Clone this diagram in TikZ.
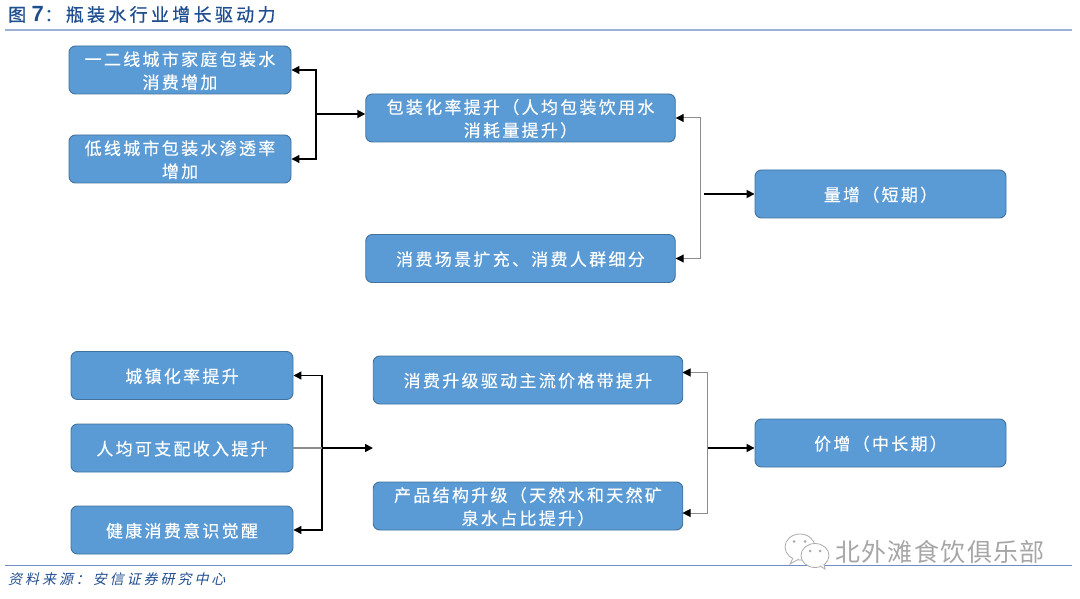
\documentclass[tikz,border=0pt]{standalone}
\usepackage{fontspec}
\usetikzlibrary{arrows.meta,calc}
\setmainfont{Noto Sans CJK SC}
\newfontfamily\boxcjk[LetterSpace=13.5,FakeBold=0.3]{Noto Sans CJK SC}
\newfontfamily\titlecjk[LetterSpace=18.4,FakeBold=0.6]{Noto Sans CJK SC}
\newfontfamily\titlenum{Liberation Sans Bold}
\newfontfamily\footcjk[LetterSpace=21,FakeSlant=0.22]{Noto Sans CJK SC}
\newfontfamily\markcjk[LetterSpace=5.5]{Noto Sans CJK SC}
\newcommand{\tdown}[1]{\raisebox{-0.7pt}[\height][\depth]{#1}}
\definecolor{boxfill}{HTML}{5B9BD5}
\definecolor{boxline}{HTML}{41719C}
\definecolor{headblue}{HTML}{1F4E8F}
\definecolor{rulea}{HTML}{9DB2D8}
\definecolor{ruleb}{HTML}{6F8FC4}
\definecolor{linegrey}{HTML}{8C8C8C}
\tikzset{
  flowbox/.style={draw=boxline,line width=0.9pt,fill=boxfill,rounded corners=6.5pt,inner sep=0pt,
    text=white,align=center,font=\boxcjk\fontsize{17}{23}\selectfont},
  boxa/.style={flowbox,minimum width=222pt,minimum height=48pt},
  boxb/.style={flowbox,minimum width=309.5pt,minimum height=48pt},
  boxc/.style={flowbox,minimum width=251pt,minimum height=48pt},
  blackline/.style={draw=black,line width=1.2pt},
  blacktip/.style={blackline,-{Triangle[length=8pt,width=8pt]}},
  greyline/.style={draw=linegrey,line width=1pt},
  greytip/.style={greyline,-{Triangle[length=8pt,width=8pt,color=black]}},
  strongtip/.style={draw=black,line width=1.7pt,-{Triangle[length=8pt,width=8pt]}},
  wmbubble/.style={draw=gray!65,line width=0.8pt,fill=white},
  wmeye/.style={fill=gray!65,draw=none}
}
\begin{document}
\begin{tikzpicture}[x=1pt,y=-1pt]
\useasboundingbox (0,0) rectangle (1080,599);
% header and footer
\node[anchor=west,inner sep=0pt,text=headblue] (title) at (8,14.5)
  {\titlecjk\fontsize{18}{18}\selectfont 图\hspace{5.5pt}{\titlenum\fontsize{22}{22}\selectfont 7}\hspace{0.5pt}：瓶装水行业增长驱动力};
\coordinate (tl) at (5,30); \coordinate (tr) at (1072,30);
\draw[rulea,line width=1.2pt] (tl) -- (tr);
\coordinate (bl) at (5,565.5); \coordinate (br) at (1072,565.5);
\draw[ruleb,line width=0.9pt] (bl) -- (br);
\node[anchor=west,inner sep=0pt,text=headblue] (source) at (8,579.5)
  {\footcjk\fontsize{14}{14}\selectfont 资料来源：安信证券研究中心};
% watermark
\draw[wmbubble] (800,547) ellipse (15 and 13);
\draw[wmbubble] (793,558) -- (790,564) -- (799,559);
\fill[wmeye] (794,541.5) circle (1.5) (805,541.5) circle (1.5);
\draw[wmbubble] (815,555.5) ellipse (14 and 12);
\draw[wmbubble] (820,566) -- (825,569) -- (824,564);
\fill[wmeye] (810,551) circle (1.5) (820,551) circle (1.5);
\node[anchor=west,inner sep=0pt,text=gray!70] (mark) at (835,552)
  {\markcjk\fontsize{25}{25}\selectfont 北外滩食饮俱乐部};
% top group
\node[boxa] (a1) at (180,70) {\tdown{一二线城市家庭包装水}\\\tdown{消费增加}};
\node[boxa] (a2) at (180,159) {\tdown{低线城市包装水渗透率}\\\tdown{增加}};
\node[boxb] (b1) at (520.5,118) {\tdown{包装化率提升（人均包装饮用水}\\\tdown{消耗量提升）}};
\node[boxb] (b2) at (520.5,258.5) {\tdown{消费场景扩充、消费人群细分}};
\node[boxc] (c) at (880.5,194) {\tdown{量增（短期）}};
% bottom group
\node[boxa] (d1) at (182,375.5) {\tdown{城镇化率提升}};
\node[boxa] (d2) at (182,448) {\tdown{人均可支配收入提升}};
\node[boxa] (d3) at (182,530) {\tdown{健康消费意识觉醒}};
\node[boxb] (e1) at (528,380) {\tdown{消费升级驱动主流价格带提升}};
\node[boxb] (e2) at (528,506) {\tdown{产品结构升级（天然水和天然矿}\\\tdown{泉水占比提升）}};
\node[boxc] (f) at (880.5,443) {\tdown{价增（中长期）}};
% junctions
\coordinate (j1) at (316,114);
\coordinate (j2) at (700,194);
\coordinate (j2s) at (704,194);
\coordinate (j3) at (322,448);
\coordinate (j3e) at (373,448);
\coordinate (j4) at (707.5,448);
\coordinate (e1t) at (682.5,372.5);
\coordinate (e2t) at (682.5,513);
% connectors: top-left bracket
\draw[blacktip] (j1) |- (a1.east);
\draw[blacktip] (j1) |- (a2.east);
\draw[strongtip] (j1) -- (b1.west |- j1);
% top-right bracket
\draw[greytip] (j2) |- (b1.east);
\draw[greytip] (j2) |- (b2.east);
\draw[strongtip] (j2s) -- (c.west |- j2s);
% bottom-left bracket
\draw[blacktip] (j3) |- (d1.east);
\draw[blacktip] (j3) |- (d3.east);
\draw[greyline,line width=1.3pt] (d2.east) -- (j3);
\draw[strongtip] (j3) -- (j3e);
% bottom-right bracket
\draw[greytip] (j4) |- (e1t);
\draw[greytip] (j4) |- (e2t);
\draw[strongtip] (j4) -- (f.west |- j4);
\end{tikzpicture}
\end{document}
